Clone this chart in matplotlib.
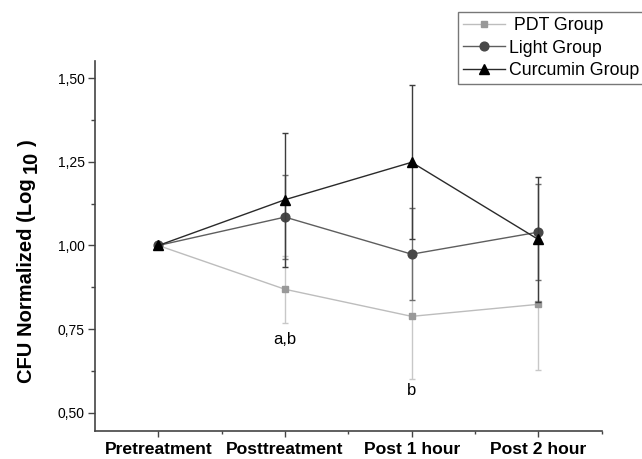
import matplotlib.pyplot as plt
import numpy as np

plt.rcParams['font.family'] = ['Liberation Sans', 'DejaVu Sans']

# dados
etapas = ['Pretreatment', 'Posttreatment', 'Post 1 hour', 'Post 2 hour']
pdt = [1.00, 0.869, 0.788, 0.824]
pdt_err = [0.0, 0.100, 0.188, 0.196]
luz = [1.00, 1.085, 0.974, 1.040]
luz_err = [0.0, 0.126, 0.137, 0.143]
curc = [1.00, 1.137, 1.249, 1.018]
curc_err = [0.0, 0.200, 0.230, 0.188]
rotulos = ['a,b', 'b']
rotulos_y = [0.72, 0.565]

x = np.arange(len(etapas))
W, H = 642, 459

fig = plt.figure(figsize=(6.42, 4.59), dpi=100)
ax = fig.add_axes([95 / W, 1 - 431 / H, 506.7 / W, 370 / H])

l1 = ax.errorbar(x, pdt, yerr=pdt_err, color='#bdbdbd', ecolor='#c8c8c8', lw=1,
                 elinewidth=1, capsize=2.5, marker='s', ms=5, mfc='#999999',
                 mec='#999999', zorder=2)
l2 = ax.errorbar(x, luz, yerr=luz_err, color='#5e5e5e', ecolor='#6e6e6e', lw=1,
                 elinewidth=1, capsize=2.5, marker='o', ms=6.3, mfc='#474747',
                 mec='#474747', zorder=3)
l3 = ax.errorbar(x, curc, yerr=curc_err, color='#2a2a2a', ecolor='#3c3c3c', lw=1,
                 elinewidth=1, capsize=2.5, marker='^', ms=7, mfc='black',
                 mec='black', zorder=4)

for i, (t, yy) in enumerate(zip(rotulos, rotulos_y)):
    ax.text(x[i + 1], yy, t, ha='center', va='center', fontsize=12)

ax.set_xlim(-0.5, 3.5)
ax.set_ylim(0.445, 1.552)
ax.set_xticks(x)
ax.set_xticklabels(etapas, fontweight='bold', fontsize=12.6)
ax.set_xticks(list(x[:-1] + 0.5) + [3.5], minor=True)
ax.set_yticks([0.5, 0.75, 1.0, 1.25, 1.5])
ax.set_yticklabels(['0,50', '0,75', '1,00', '1,25', '1,50'], fontsize=10)
ax.set_yticks([0.625, 0.875, 1.125, 1.375], minor=True)
ax.tick_params(axis='y', which='major', length=5, width=1, color='#444444', pad=2.5)
ax.tick_params(axis='y', which='minor', length=3, width=1, color='#444444')
ax.tick_params(axis='x', which='major', length=4.5, width=1, color='#444444', pad=3.5)
ax.tick_params(axis='x', which='minor', length=2.5, width=1, color='#444444')

for s in ['top', 'right']:
    ax.spines[s].set_visible(False)
for s in ['left', 'bottom']:
    ax.spines[s].set_linewidth(1.2)
    ax.spines[s].set_color('#444444')

# legenda so com linha e marcador (sem barras de erro)
leg = fig.legend([l1[0], l2[0], l3[0]], [' PDT Group', 'Light Group', 'Curcumin Group'],
                 loc='upper left', bbox_to_anchor=(458 / W, 1 - 12 / H), fontsize=12.8,
                 frameon=True, fancybox=False, edgecolor='#777777', framealpha=1,
                 handlelength=2.35, handletextpad=0.22, labelspacing=0.3,
                 borderpad=0.3, borderaxespad=0)
leg.get_frame().set_linewidth(1)

# rotulo do eixo y com o "10" deslocado como subscrito
fig.canvas.draw()
r = fig.canvas.get_renderer()
fs = 14.5
xl = 27 / W
t1 = fig.text(xl, 1 - 383 / H, 'CFU Normalized (Log', rotation=90, ha='center',
              va='bottom', fontweight='bold', fontsize=fs)
b1 = t1.get_window_extent(r)
t2 = fig.text(xl + 4 / W, (b1.y1 + 5) / H, '10', rotation=90, ha='center',
              va='bottom', fontweight='bold', fontsize=fs)
b2 = t2.get_window_extent(r)
fig.text(xl, (b2.y1 + 5) / H, ')', rotation=90, ha='center', va='bottom',
         fontweight='bold', fontsize=fs)

fig.savefig('out.png', dpi=100)
